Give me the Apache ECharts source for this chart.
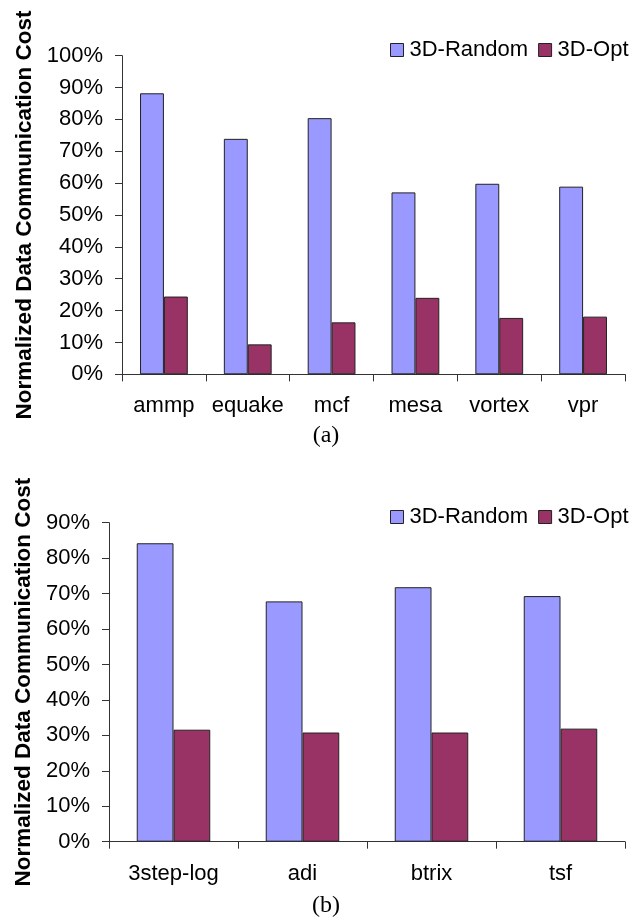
<!DOCTYPE html>
<html>
<head>
<meta charset="utf-8">
<script src="https://cdn.jsdelivr.net/npm/echarts@6/dist/echarts.min.js"></script>
<style>
  html, body { margin: 0; padding: 0; background: #fff; }
  #chart { width: 633px; height: 917px; }
</style>
</head>
<body>
<div id="chart"></div>
<script>
// Panel (a): SPEC benchmarks
const categoriesA = ['ammp', 'equake', 'mcf', 'mesa', 'vortex', 'vpr'];
const randomA = [88.2, 73.9, 80.4, 57.1, 59.8, 58.9];
const optA = [24.4, 9.4, 16.3, 24.0, 17.7, 18.1];

// Panel (b): array-intensive codes
const categoriesB = ['3step-log', 'adi', 'btrix', 'tsf'];
const randomB = [84.2, 67.8, 71.8, 69.3];
const optB = [31.6, 30.8, 30.8, 31.9];

const seriesNames = ['3D-Random', '3D-Opt'];
const yTitle = 'Normalized Data Communication Cost';

const FONT = '"Liberation Sans", Arial, sans-serif';
const AXIS_COLOR = '#333';
const BLUE = '#9999FF';
const RED = '#993366';

function yAxisFor(gridIndex, maxVal, gap) {
  return {
    type: 'value', gridIndex, min: 0, max: maxVal, interval: 10,
    name: yTitle, nameLocation: 'middle', nameGap: gap, nameRotate: 90,
    nameTextStyle: { fontFamily: FONT, fontSize: 22.5, fontWeight: 'bold', color: '#000' },
    axisLine: { show: true, lineStyle: { color: AXIS_COLOR, width: 1 } },
    axisTick: { show: true, length: 7, lineStyle: { color: AXIS_COLOR } },
    splitLine: { show: false },
    axisLabel: { formatter: '{value}%', fontFamily: FONT, fontSize: 22, color: '#000', margin: 19 }
  };
}

function xAxisFor(gridIndex, cats) {
  return {
    type: 'category', gridIndex, data: cats,
    axisLine: { show: true, lineStyle: { color: AXIS_COLOR, width: 1 } },
    axisTick: { show: true, length: 7, interval: 0, lineStyle: { color: AXIS_COLOR } },
    axisLabel: { interval: 0, fontFamily: FONT, fontSize: 22, color: '#000', margin: 21 }
  };
}

function barSeries(name, data, color, idx) {
  return {
    type: 'bar', name, data, xAxisIndex: idx, yAxisIndex: idx,
    barGap: '0%', barCategoryGap: '43%',
    itemStyle: { color, borderColor: '#222', borderWidth: 1 },
    emphasis: { disabled: true }
  };
}

const legendStyle = {
  orient: 'horizontal', width: 260,
  icon: 'rect', itemWidth: 13, itemHeight: 13, itemGap: 10,
  textStyle: { fontFamily: FONT, fontSize: 22, color: '#000', padding: [0, 0, 0, 1] },
  itemStyle: { borderColor: '#222', borderWidth: 1 },
  data: seriesNames
};

const chart = echarts.init(document.getElementById('chart'), null, { renderer: 'canvas' });
chart.setOption({
  animation: false,
  backgroundColor: '#fff',
  color: [BLUE, RED],
  grid: [
    { left: 122, right: 8, top: 55.7, height: 318.6 },
    { left: 109, right: 8, top: 522.7, height: 319 }
  ],
  legend: [
    Object.assign({ left: 385, top: 34 }, legendStyle),
    Object.assign({ left: 385, top: 501 }, legendStyle)
  ],
  title: [
    { text: '(a)', left: 321, top: 419, textAlign: 'center',
      textStyle: { fontFamily: '"Liberation Serif", "Times New Roman", serif', fontSize: 24, fontWeight: 'normal', color: '#000' } },
    { text: '(b)', left: 321, top: 889, textAlign: 'center',
      textStyle: { fontFamily: '"Liberation Serif", "Times New Roman", serif', fontSize: 24, fontWeight: 'normal', color: '#000' } }
  ],
  xAxis: [xAxisFor(0, categoriesA), xAxisFor(1, categoriesB)],
  yAxis: [yAxisFor(0, 100, 86), yAxisFor(1, 90, 73)],
  series: [
    barSeries(seriesNames[0], randomA, BLUE, 0),
    barSeries(seriesNames[1], optA, RED, 0),
    barSeries(seriesNames[0], randomB, BLUE, 1),
    barSeries(seriesNames[1], optB, RED, 1)
  ]
});
</script>
</body>
</html>
